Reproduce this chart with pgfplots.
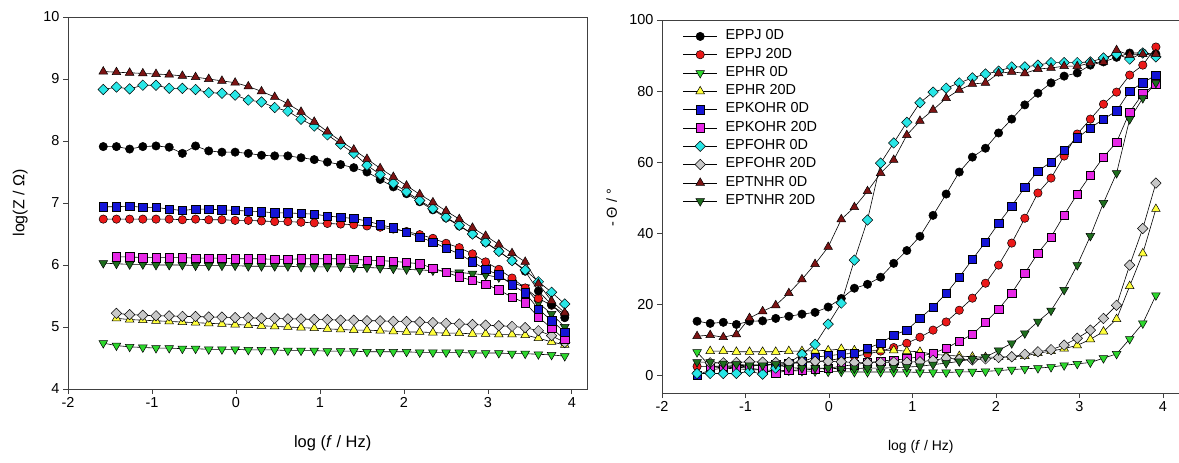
\documentclass[border=0pt]{standalone}
\usepackage{fontspec}
\setmainfont{Liberation Sans}
\usepackage{pgfplots}
\usepackage{pgfplotstable}
\pgfplotsset{compat=1.18}

\definecolor{cRed}{RGB}{235,25,25}
\definecolor{cGreen}{RGB}{45,215,45}
\definecolor{cYellow}{RGB}{255,255,60}
\definecolor{cBlue}{RGB}{20,20,215}
\definecolor{cMag}{RGB}{230,40,230}
\definecolor{cCyan}{RGB}{40,230,230}
\definecolor{cGrey}{RGB}{200,200,200}
\definecolor{cMaroon}{RGB}{125,20,20}
\definecolor{cDkGreen}{RGB}{30,110,30}

% columns: a EPPJ 0D, b EPPJ 20D, c EPHR 0D, d EPHR 20D, e EPKOHR 0D,
% f EPKOHR 20D, g EPFOHR 0D, h EPFOHR 20D, k EPTNHR 0D, m EPTNHR 20D
\pgfplotstableread{
x      a    b    c    d    e    f    g    h    k    m
-1.580 7.91 6.74 4.74 nan  6.94 nan  8.83 nan  9.12 6.03
-1.423 7.91 6.74 4.70 5.14 6.94 6.13 8.87 5.22 9.11 6.02
-1.266 7.87 6.74 4.68 5.12 6.95 6.13 8.84 5.20 9.10 6.01
-1.109 7.91 6.74 4.67 5.11 6.93 6.12 8.90 5.19 9.09 6.01
-0.952 7.92 6.74 4.66 5.10 6.93 6.12 8.90 5.18 9.08 6.00
-0.795 7.90 6.74 4.66 5.09 6.90 6.12 8.85 5.18 9.07 6.00
-0.638 7.80 6.73 4.65 5.08 6.88 6.12 8.85 5.17 9.05 6.00
-0.481 7.92 6.74 4.65 5.07 6.90 6.11 8.83 5.17 9.03 5.99
-0.324 7.84 6.73 4.64 5.06 6.90 6.11 8.78 5.16 9.00 5.99
-0.167 7.82 6.73 4.64 5.05 6.89 6.11 8.77 5.16 8.97 5.99
-0.010 7.82 6.72 4.64 5.04 6.88 6.10 8.74 5.15 8.94 5.99
0.147  7.80 6.72 4.63 5.03 6.87 6.10 8.66 5.15 8.88 5.98
0.304  7.77 6.71 4.63 5.02 6.86 6.10 8.63 5.14 8.80 5.98
0.461  7.76 6.70 4.63 5.01 6.84 6.09 8.54 5.14 8.71 5.98
0.618  7.76 6.70 4.62 5.00 6.84 6.09 8.48 5.13 8.60 5.98
0.775  7.73 6.69 4.62 4.99 6.83 6.10 8.35 5.13 8.47 5.97
0.932  7.70 6.68 4.62 4.98 6.82 6.10 8.24 5.12 8.31 5.97
1.089  7.66 6.67 4.61 4.97 6.79 6.10 8.10 5.12 8.15 5.97
1.246  7.62 6.66 4.61 4.96 6.77 6.10 7.95 5.11 8.00 5.97
1.403  7.57 6.65 4.61 4.95 6.75 6.09 7.80 5.11 7.86 5.96
1.560  7.50 6.63 4.60 4.95 6.71 6.08 7.61 5.10 7.71 5.96
1.717  7.38 6.61 4.60 4.94 6.65 6.07 7.46 5.10 7.56 5.95
1.874  7.26 6.58 4.60 4.93 6.60 6.06 7.32 5.09 7.42 5.94
2.031  7.15 6.54 4.60 4.92 6.53 6.04 7.18 5.09 7.28 5.93
2.188  7.02 6.49 4.59 4.92 6.45 6.02 7.04 5.08 7.14 5.92
2.345  6.89 6.43 4.59 4.91 6.37 5.95 6.91 5.07 7.01 5.91
2.502  6.76 6.35 4.59 4.90 6.27 5.88 6.77 5.06 6.87 5.90
2.659  6.63 6.28 4.59 4.90 6.18 5.81 6.64 5.05 6.74 5.88
2.816  6.50 6.18 4.58 4.89 6.05 5.75 6.50 5.04 6.60 5.86
2.973  6.36 6.05 4.58 4.89 5.93 5.69 6.37 5.03 6.47 5.84
3.130  6.22 5.93 4.58 4.88 5.84 5.60 6.22 5.02 6.33 5.80
3.287  6.07 5.79 4.57 4.88 5.68 5.48 6.07 5.01 6.19 5.72
3.444  5.90 5.63 4.57 4.87 5.55 5.39 5.92 4.99 6.05 5.64
3.601  5.58 5.46 4.56 4.82 5.29 5.16 5.73 4.94 5.70 5.39
3.758  5.36 5.35 4.55 4.76 5.10 4.98 5.56 4.86 5.42 5.21
3.915  5.15 5.20 4.53 4.71 4.92 4.80 5.37 4.75 5.23 5.00
}\leftdata

\pgfplotstableread{
x      a    b    c    d    e    f    g    h    k    m
-1.580 15.2 2.5  6.5  nan  0.0  nan  0.5  nan  11.0 3.7
-1.423 14.6 2.5  2.5  6.8  1.5  2.5  0.5  3.5  11.3 3.7
-1.266 14.9 2.6  2.0  6.8  2.0  2.5  0.5  3.5  10.7 3.3
-1.109 14.3 2.7  1.8  6.6  2.3  2.3  0.5  3.6  11.5 3.1
-0.952 15.2 2.8  1.6  6.6  2.6  2.0  1.1  3.8  16.1 2.8
-0.795 15.3 3.0  1.5  6.6  2.8  1.5  0.3  3.7  18.0 2.8
-0.638 16.0 3.1  1.4  6.6  3.0  0.6  2.0  3.6  19.7 3.1
-0.481 16.6 3.3  1.3  6.8  3.3  1.4  3.5  3.6  23.1 2.1
-0.324 17.2 3.5  1.2  6.8  3.8  1.5  5.9  3.8  27.0 2.0
-0.167 17.7 3.8  1.1  6.9  5.1  1.7  8.7  3.9  31.3 2.0
-0.010 19.2 4.2  1.0  7.0  5.5  2.0  14.4 3.9  36.1 2.0
0.147  21.6 4.7  1.0  7.4  5.9  2.5  20.3 3.8  43.9 1.8
0.304  24.5 5.3  0.9  7.0  6.2  3.0  32.4 3.6  47.3 1.9
0.461  25.6 6.0  0.9  6.8  7.6  3.5  43.7 3.5  51.8 2.0
0.618  27.6 6.8  0.9  7.0  9.0  4.0  59.7 3.6  56.9 2.0
0.775  31.5 7.8  0.9  7.0  11.3 4.3  65.4 3.7  60.6 2.1
0.932  35.1 9.0  0.9  6.8  12.7 4.6  71.2 3.7  67.6 2.3
1.089  39.1 10.7 0.8  6.6  16.0 5.3  76.7 3.8  71.6 2.5
1.246  45.0 12.7 0.8  5.9  19.2 6.2  79.7 4.2  74.7 3.0
1.403  51.0 15.0 0.8  5.6  23.0 7.6  80.8 4.8  78.0 3.4
1.560  57.2 18.3 0.9  5.4  27.6 9.6  82.3 4.5  80.3 3.9
1.717  61.4 21.7 1.0  5.2  32.6 11.5 83.7 4.3  82.0 4.6
1.874  63.9 25.9 1.1  5.1  37.5 14.9 84.8 4.6  82.3 5.1
2.031  68.2 31.0 1.3  5.1  42.8 18.6 85.6 5.0  85.0 7.0
2.188  72.1 37.2 1.6  5.2  47.6 23.1 86.8 5.2  85.4 9.0
2.345  76.1 44.2 1.8  5.4  52.9 28.7 86.8 5.9  85.0 11.8
2.502  79.4 51.3 2.0  6.2  57.5 34.4 87.3 6.6  86.2 15.1
2.659  82.3 55.5 2.3  6.8  60.0 38.9 88.0 7.2  86.5 18.2
2.816  84.2 61.7 2.8  7.5  63.4 45.1 88.0 8.5  87.0 24.0
2.973  85.1 67.9 3.2  8.4  66.8 51.0 88.0 10.4 87.0 31.0
3.130  87.3 72.1 3.6  10.1 69.6 56.3 88.2 12.7 87.9 39.2
3.287  88.2 76.3 4.8  12.3 72.1 61.4 89.3 16.0 88.2 48.5
3.444  89.5 79.7 6.0  15.8 74.4 65.6 90.4 19.7 91.5 56.9
3.601  90.7 84.5 10.2 25.1 80.0 74.1 89.0 31.0 90.1 72.1
3.758  90.7 87.3 14.6 34.3 82.3 79.2 90.7 41.3 90.4 78.0
3.915  90.4 92.4 22.5 46.8 84.5 82.0 89.6 54.1 90.4 82.3
}\rightdata

\pgfplotsset{
  ser/.style={black, line width=0.6bp},
  sA/.style={ser, mark=*, mark size=4.2bp, mark options={fill=black, draw=black, line width=0.5bp}},
  sB/.style={ser, mark=*, mark size=4.2bp, mark options={fill=cRed, draw=black, line width=0.5bp}},
  sC/.style={ser, mark=triangle*, mark size=5bp, mark options={rotate=180, fill=cGreen, draw=black, line width=0.5bp}},
  sD/.style={ser, mark=triangle*, mark size=5bp, mark options={fill=cYellow, draw=black, line width=0.5bp}},
  sE/.style={ser, mark=square*, mark size=4.2bp, mark options={fill=cBlue, draw=black, line width=0.5bp}},
  sF/.style={ser, mark=square*, mark size=4.2bp, mark options={fill=cMag, draw=black, line width=0.5bp}},
  sG/.style={ser, mark=square*, mark size=3.7bp, mark options={rotate=45, fill=cCyan, draw=black, line width=0.5bp}},
  sH/.style={ser, mark=square*, mark size=3.7bp, mark options={rotate=45, fill=cGrey, draw=black, line width=0.5bp}},
  sK/.style={ser, mark=triangle*, mark size=5bp, mark options={fill=cMaroon, draw=black, line width=0.5bp}},
  sM/.style={ser, mark=triangle*, mark size=5bp, mark options={rotate=180, fill=cDkGreen, draw=black, line width=0.5bp}},
  panel/.style={
    scale only axis,
    anchor=south west,
    tick align=outside,
    tick pos=left,
    major tick length=5bp,
    axis line style={line width=0.8bp, black!75},
    tick style={line width=0.8bp, black!75},
    ticklabel style={font=\fontsize{14.5}{17}\selectfont},
    /pgf/number format/assume math mode=true,
    xtick={-2,-1,0,1,2,3,4},
    xticklabels={-2,-1,0,1,2,3,4},
    clip=false,
  },
}

\begin{document}
\begin{tikzpicture}
\path[use as bounding box] (0,0) rectangle (1179bp,463bp);

\begin{axis}[panel,
  at={(68bp,74bp)}, width=519bp, height=372bp,
  xmin=-2, xmax=4.18, ymin=4, ymax=10,
  ytick={4,5,6,7,8,9,10},
  xlabel={log (\textit{f} / Hz)},
  ylabel={log(Z / Ω)},
  every axis x label/.style={at={(axis description cs:0.51,-0.145)}, anchor=center, font=\fontsize{16.5}{19}\selectfont},
  every axis y label/.style={at={(axis description cs:-0.092,0.5)}, rotate=90, anchor=center, font=\fontsize{16}{19}\selectfont},
]
\addplot[sC] table[x=x, y=c] {\leftdata};
\addplot[sD] table[x=x, y=d] {\leftdata};
\addplot[sH] table[x=x, y=h] {\leftdata};
\addplot[sM] table[x=x, y=m] {\leftdata};
\addplot[sF] table[x=x, y=f] {\leftdata};
\addplot[sB] table[x=x, y=b] {\leftdata};
\addplot[sE] table[x=x, y=e] {\leftdata};
\addplot[sA] table[x=x, y=a] {\leftdata};
\addplot[sG] table[x=x, y=g] {\leftdata};
\addplot[sK] table[x=x, y=k] {\leftdata};
\end{axis}

\begin{axis}[panel,
  at={(662bp,70bp)}, width=517.7bp, height=373bp,
  xmin=-2, xmax=4.2, ymin=-5, ymax=100,
  ytick={0,20,40,60,80,100},
  xlabel={log (\textit{f} / Hz)},
  ylabel={- Θ / °},
  every axis x label/.style={at={(axis description cs:0.5,-0.145)}, anchor=center, font=\fontsize{14}{17}\selectfont},
  every axis y label/.style={at={(axis description cs:-0.097,0.496)}, rotate=90, anchor=center, font=\fontsize{14.5}{17}\selectfont},
  legend cell align=left,
  legend style={at={(rel axis cs:0.04,0.977)}, anchor=north west, draw=none, fill=none,
    inner sep=0pt, row sep=3bp, font=\fontsize{14.5}{17}\selectfont,
    nodes={inner sep=1bp, text height=10bp, text depth=3.3bp}},
  legend image code/.code={\draw[mark repeat=2, mark phase=2, #1] plot coordinates {(0bp,0bp) (17bp,0bp) (34bp,0bp)}; \path (41bp,0bp);},
]
\addplot[sA] table[x=x, y=a] {\rightdata};
\addlegendentry{EPPJ 0D}
\addplot[sB] table[x=x, y=b] {\rightdata};
\addlegendentry{EPPJ 20D}
\addplot[sC] table[x=x, y=c] {\rightdata};
\addlegendentry{EPHR 0D}
\addplot[sD] table[x=x, y=d] {\rightdata};
\addlegendentry{EPHR 20D}
\addplot[sE] table[x=x, y=e] {\rightdata};
\addlegendentry{EPKOHR 0D}
\addplot[sF] table[x=x, y=f] {\rightdata};
\addlegendentry{EPKOHR 20D}
\addplot[sG] table[x=x, y=g] {\rightdata};
\addlegendentry{EPFOHR 0D}
\addplot[sH] table[x=x, y=h] {\rightdata};
\addlegendentry{EPFOHR 20D}
\addplot[sK] table[x=x, y=k] {\rightdata};
\addlegendentry{EPTNHR 0D}
\addplot[sM] table[x=x, y=m] {\rightdata};
\addlegendentry{EPTNHR 20D}
\end{axis}
\end{tikzpicture}
\end{document}
